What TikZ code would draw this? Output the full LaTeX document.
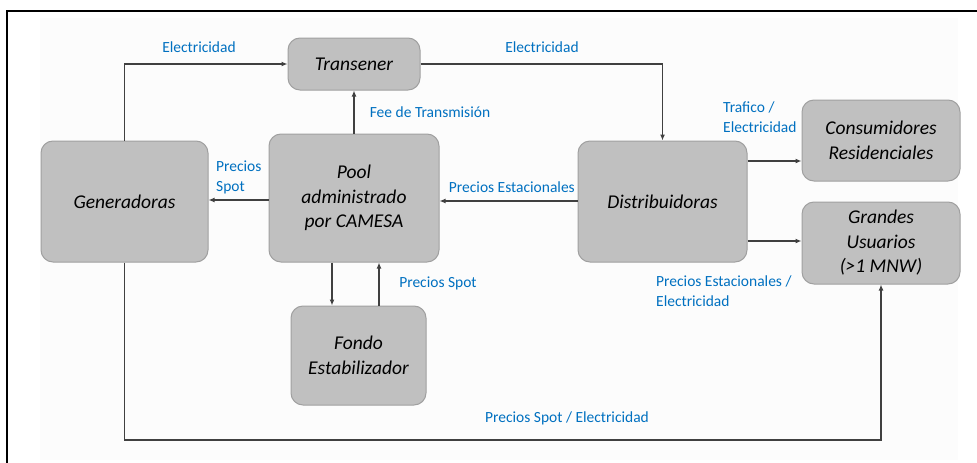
\documentclass[tikz,border=0pt]{standalone}
\usepackage{fontspec}
\setmainfont{Carlito}
\usetikzlibrary{arrows.meta}
\definecolor{boxfill}{RGB}{192,192,192}
\definecolor{boxline}{RGB}{160,160,160}
\definecolor{lblue}{RGB}{0,112,192}
\definecolor{arrcol}{RGB}{64,64,64}
\definecolor{bgfaint}{RGB}{252,252,252}
\tikzset{
  box/.style={draw=boxline, fill=boxfill, line width=1pt, rounded corners=12pt,
    inner sep=0pt, align=center, font=\fontsize{19.5}{24.5}\selectfont\itshape},
  arr/.style={draw=arrcol, line width=1.6pt, -{Latex[length=6pt,width=5pt]}},
  lbl/.style={text=lblue, inner sep=0pt, font=\fontsize{15.5}{20}\selectfont},
}
\begin{document}
\begin{tikzpicture}[x=1pt,y=-1pt]
\useasboundingbox (0,0) rectangle (977,463);
\fill[bgfaint] (40,18) rectangle (958,460);
\draw[line width=2.5pt,black] (7,463) -- (7,11) -- (977,11);

\node[box, minimum width=132pt, minimum height=52pt] (tr) at (354,64) {Transener};
\node[box, minimum width=167pt, minimum height=121pt] (gen) at (124.5,201.5) {Generadoras};
\node[box, minimum width=170pt, minimum height=128pt] (pool) at (354,198) {Pool\\administrado\\por CAMESA};
\node[box, minimum width=135pt, minimum height=99pt] (fondo) at (358.5,355.5) {Fondo\\Estabilizador};
\node[box, minimum width=169pt, minimum height=121pt] (dist) at (662.5,201.5) {Distribuidoras};
\node[box, minimum width=158pt, minimum height=81pt] (cons) at (881,140.5) {Consumidores\\Residenciales};
\node[box, minimum width=158pt, minimum height=82pt] (gran) at (881,243) {Grandes\\Usuarios\\(>1 MNW)};

\coordinate (ypg) at (0,200);
\coordinate (ydp) at (0,201);
\coordinate (xpf) at (332,0);
\coordinate (xfp) at (379,0);
\coordinate (ydc) at (0,161);
\coordinate (ydg) at (0,241);
\coordinate (bl) at (500,440);

\draw[arr] (gen.north) |- (tr.west);
\draw[arr] (tr.east) -| (dist.north);
\draw[arr] (pool.north) -- (tr.south);
\draw[arr] (pool.west |- ypg) -- (gen.east |- ypg);
\draw[arr] (dist.west |- ydp) -- (pool.east |- ydp);
\draw[arr] (pool.south -| xpf) -- (fondo.north -| xpf);
\draw[arr] (fondo.north -| xfp) -- (pool.south -| xfp);
\draw[arr] (dist.east |- ydc) -- (cons.west |- ydc);
\draw[arr] (dist.east |- ydg) -- (gran.west |- ydg);
\draw[arr] (gen.south) |- (bl) -| (gran.south);

\node[lbl] (l1) at (199,47) {Electricidad};
\node[lbl] (l2) at (542,47) {Electricidad};
\node[lbl] (l3) at (430,112) {Fee de Transmisión};
\node[lbl, align=left, anchor=west] (l4) at (216,177) {Precios\\Spot};
\node[lbl, anchor=east] (l5) at (575,187) {Precios Estacionales};
\node[lbl, align=left, anchor=west] (l6) at (723,117) {Trafico /\\Electricidad};
\node[lbl, align=left, anchor=west] (l7) at (656,291) {Precios Estacionales /\\Electricidad};
\node[lbl] (l8) at (438,283) {Precios Spot};
\node[lbl] (l9) at (567,418) {Precios Spot / Electricidad};
\end{tikzpicture}
\end{document}
